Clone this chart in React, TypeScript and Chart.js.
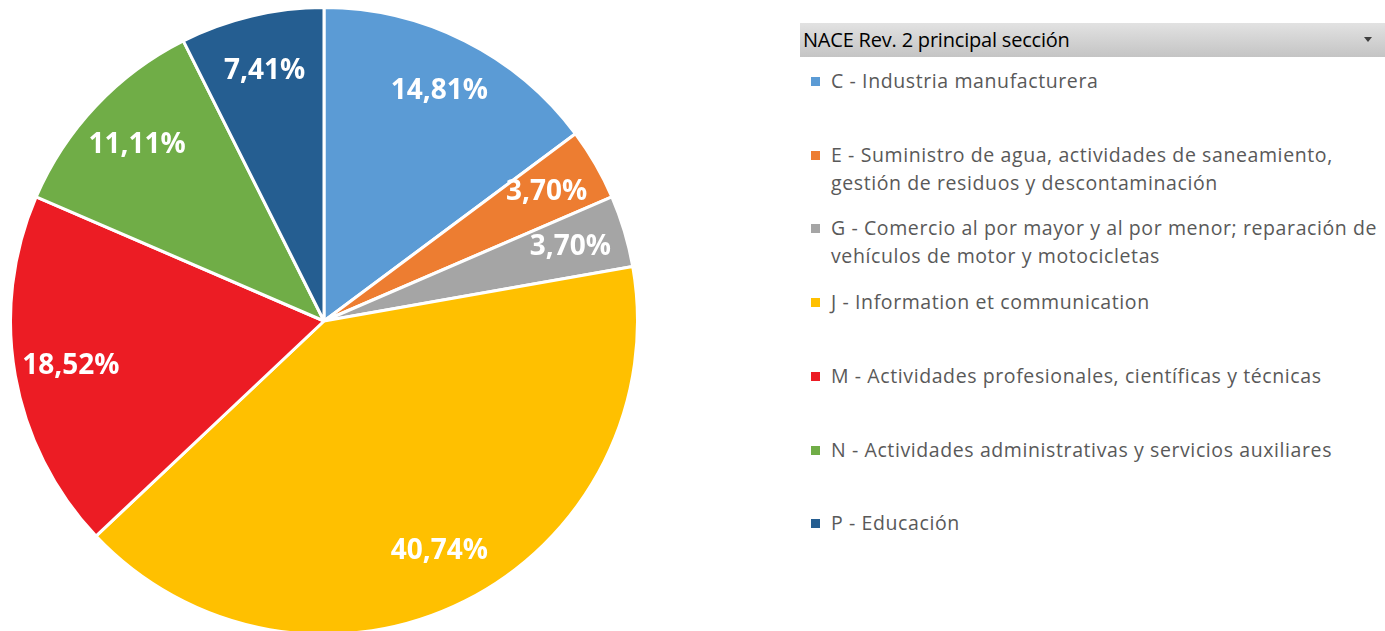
import React, { useEffect, useRef } from "react";
import { Chart, registerables } from "chart.js";

Chart.register(...registerables);

const categories: string[][] = [
  ["C - Industria manufacturera"],
  ["E - Suministro de agua, actividades de saneamiento,", "gestión de residuos y descontaminación"],
  ["G - Comercio al por mayor y al por menor; reparación de", "vehículos de motor y motocicletas"],
  ["J - Information et communication"],
  ["M - Actividades profesionales, científicas y técnicas"],
  ["N - Actividades administrativas y servicios auxiliares"],
  ["P - Educación"],
];
const counts: number[] = [4, 1, 1, 11, 5, 3, 2];
const percentLabels: string[] = ["14,81%", "3,70%", "3,70%", "40,74%", "18,52%", "11,11%", "7,41%"];
const sliceColors: string[] = ["#5B9BD5", "#ED7D31", "#A5A5A5", "#FFC000", "#EC1C24", "#70AD47", "#255E91"];
const legendTitle = "NACE Rev. 2 principal sección";

const labelPlugin = {
  id: "sliceLabels",
  afterDatasetsDraw(chart: any) {
    const ctx = chart.ctx;
    const meta = chart.getDatasetMeta(0);
    ctx.save();
    ctx.fillStyle = "#ffffff";
    ctx.font = "bold 28px 'Open Sans'";
    ctx.textAlign = "center";
    ctx.textBaseline = "middle";
    meta.data.forEach((arc: any, i: number) => {
      const p = arc.getProps(["x", "y", "startAngle", "endAngle", "outerRadius"], true);
      const mid = (p.startAngle + p.endAngle) / 2;
      const r = p.outerRadius * 0.82;
      ctx.fillText(percentLabels[i], p.x + Math.cos(mid) * r, p.y + Math.sin(mid) * r);
    });
    ctx.restore();
  },
};

export default function App() {
  const canvasRef = useRef<HTMLCanvasElement | null>(null);

  useEffect(() => {
    document.body.style.margin = "0";
    const chart = new Chart(canvasRef.current as HTMLCanvasElement, {
      type: "pie",
      data: {
        labels: categories.map((c) => c.join(" ")),
        datasets: [
          {
            data: counts,
            backgroundColor: sliceColors,
            borderColor: "#ffffff",
            borderWidth: 3,
          },
        ],
      },
      options: {
        responsive: false,
        animation: false,
        maintainAspectRatio: false,
        layout: { padding: 0 },
        plugins: {
          legend: { display: false },
          tooltip: { enabled: false },
        },
      },
      plugins: [labelPlugin],
    });
    return () => chart.destroy();
  }, []);

  return (
    <div
      style={{
        position: "relative",
        width: 1385,
        height: 631,
        overflow: "hidden",
        background: "#ffffff",
        fontFamily: "'Open Sans', sans-serif",
      }}
    >
      <canvas
        ref={canvasRef}
        width={630}
        height={630}
        style={{ position: "absolute", left: 9, top: 6, width: 630, height: 630 }}
      />
      <div
        style={{
          position: "absolute",
          left: 800,
          top: 23,
          width: 585,
          height: 34,
          background: "linear-gradient(#e2e2e2, #c4c4c4)",
          boxSizing: "border-box",
        }}
      >
        <span
          style={{
            position: "absolute",
            left: 3,
            top: 3,
            fontSize: 20,
            lineHeight: "28px",
            color: "#000000",
            letterSpacing: -0.2,
            whiteSpace: "nowrap",
          }}
        >
          {legendTitle}
        </span>
        <div
          style={{
            position: "absolute",
            left: 564,
            top: 14,
            width: 0,
            height: 0,
            borderLeft: "4px solid transparent",
            borderRight: "4px solid transparent",
            borderTop: "5px solid #404040",
          }}
        />
      </div>
      {categories.map((lines, i) => (
        <div
          key={i}
          style={{
            position: "absolute",
            left: 811,
            top: 67 + i * 73.7,
            whiteSpace: "nowrap",
          }}
        >
          <div
            style={{
              position: "absolute",
              left: 0,
              top: 10,
              width: 9,
              height: 9,
              background: sliceColors[i],
            }}
          />
          <div
            style={{
              position: "absolute",
              left: 20,
              top: 0,
              fontSize: 19.5,
              letterSpacing: 0.6,
              lineHeight: "28px",
              color: "#595959",
            }}
          >
            {lines.map((l, j) => (
              <div key={j}>{l}</div>
            ))}
          </div>
        </div>
      ))}
    </div>
  );
}
